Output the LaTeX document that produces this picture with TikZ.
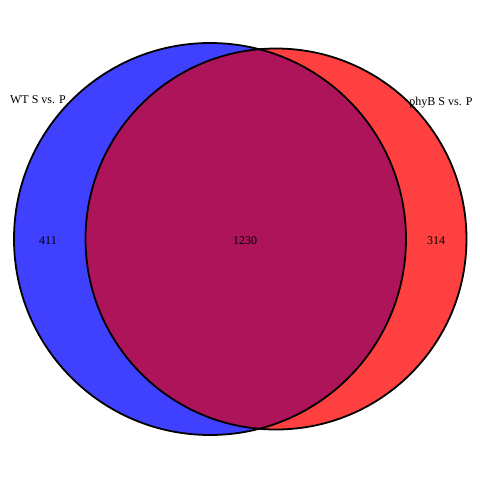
\documentclass[tikz,border=0pt]{standalone}
\usepackage{fontspec}
\setmainfont{Liberation Serif}
\definecolor{vblue}{RGB}{64,64,255}
\definecolor{vred}{RGB}{255,64,64}
\definecolor{vpurple}{RGB}{173,20,90}
\begin{document}
\begin{tikzpicture}[x=1pt,y=-1pt,
  setline/.style={draw=black,line width=1.8pt},
  lbl/.style={font=\fontsize{12}{14}\selectfont,inner sep=0pt}]
\useasboundingbox (0,0) rectangle (480,480);
\fill[white] (0,0) rectangle (480,480);
\coordinate (cA) at (210,239);
\coordinate (cB) at (276,239);
\fill[vblue] (cA) circle[radius=196];
\fill[vred] (cB) circle[radius=190.5];
\begin{scope}
\clip (cA) circle[radius=196];
\fill[vpurple] (cB) circle[radius=190.5];
\end{scope}
\draw[setline] (cA) circle[radius=196];
\draw[setline] (cB) circle[radius=190.5];
\node[lbl] (la) at (38,100) {WT S vs. P};
\node[lbl] (lb) at (441,103) {phyB S vs. P};
\node[lbl] (na) at (48,241) {411};
\node[lbl] (nab) at (245,241) {1230};
\node[lbl] (nb) at (436,241) {314};
\end{tikzpicture}
\end{document}
